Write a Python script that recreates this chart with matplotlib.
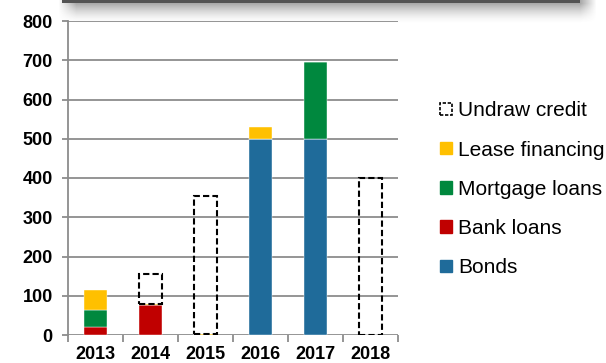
import matplotlib.pyplot as plt
import numpy as np
from matplotlib.patches import Patch

plt.rcParams["font.family"] = ["Liberation Sans", "DejaVu Sans"]

years = ["2013", "2014", "2015", "2016", "2017", "2018"]
bonds = [0, 0, 0, 500, 500, 0]
bank_loans = [21, 76, 0, 0, 0, 0]
mortgage_loans = [43, 1, 0, 0, 195, 0]
lease_financing = [50, 3, 3, 30, 0, 0]
undraw_credit = [0, 75, 352, 0, 0, 400]

COLORS = {
    "Bonds": "#1F6B9A",
    "Bank loans": "#C00000",
    "Mortgage loans": "#00883E",
    "Lease financing": "#FFC000",
}
BAR_WIDTH = 0.42
GRID = "#8c8c8c"

fig = plt.figure(figsize=(6.06, 3.63), dpi=100)
ax = fig.add_axes([68 / 606, 1 - 335 / 363, 330 / 606, 314 / 363])

x = np.arange(len(years))
bottom = np.zeros(len(years))
for name, vals in [("Bonds", bonds), ("Bank loans", bank_loans),
                   ("Mortgage loans", mortgage_loans),
                   ("Lease financing", lease_financing)]:
    vals = np.array(vals, dtype=float)
    ax.bar(x, vals, BAR_WIDTH, bottom=bottom, color=COLORS[name],
           edgecolor="white", linewidth=0.3, zorder=3)
    bottom += vals

# undrawn credit lines sit on top as dashed outlines (skip empty years)
undrawn = np.array(undraw_credit, dtype=float)
has = undrawn > 0
ax.bar(x[has], undrawn[has], BAR_WIDTH, bottom=bottom[has], facecolor="none",
       edgecolor="black", linewidth=1.5, linestyle=(0, (3, 1.5)), zorder=4)

ax.set_xlim(-0.5, len(years) - 0.5)
ax.set_ylim(0, 800)
ax.set_yticks(np.arange(0, 801, 100))
ax.grid(axis="y", color=GRID, linewidth=1.3, zorder=0)
ax.set_axisbelow(True)

for side in ["top", "right", "bottom"]:
    ax.spines[side].set_visible(False)
ax.spines["left"].set_color(GRID)
ax.spines["left"].set_linewidth(1.3)

ax.set_xticks(x)
ax.set_xticklabels(years, fontsize=13, fontweight="bold")
ax.set_xticks(np.arange(-0.5, len(years)), minor=True)
ax.tick_params(axis="x", which="major", length=0, pad=8)
ax.tick_params(axis="x", which="minor", length=5, width=1.3, color=GRID)
ax.tick_params(axis="y", length=4, width=1.3, color=GRID, pad=7)
for lbl in ax.get_yticklabels():
    lbl.set_fontsize(13)
    lbl.set_fontweight("bold")

handles = [
    Patch(facecolor="none", edgecolor="black", linewidth=1.2,
          linestyle=(0, (2, 1)), label="Undraw credit"),
    Patch(color=COLORS["Lease financing"], label="Lease financing"),
    Patch(color=COLORS["Mortgage loans"], label="Mortgage loans"),
    Patch(color=COLORS["Bank loans"], label="Bank loans"),
    Patch(color=COLORS["Bonds"], label="Bonds"),
]
fig.legend(handles=handles, loc="upper left", bbox_to_anchor=(432 / 606, 1 - 93 / 363),
           frameon=False, fontsize=15, handlelength=0.55, handleheight=0.55,
           handletextpad=0.3, labelspacing=0.97, borderaxespad=0)

# dark header strip with a soft shadow underneath
sh = fig.add_axes([0, 1 - 26 / 363, 1, 26 / 363])
sh.axis("off")
h, w = 26, 606
yy, xx = np.mgrid[0:h, 0:w]
fade_y = np.clip(1 - (yy - 3) / 20.0, 0, 1) ** 1.6
fade_x = np.clip((xx - 58) / 18.0, 0, 1) * np.clip((596 - xx) / 16.0, 0, 1)
alpha = 0.5 * fade_y * fade_x
alpha[:3, 62:580] = 1.0
rgba = np.zeros((h, w, 4))
rgba[..., :3] = 0.33
rgba[..., 3] = alpha
sh.imshow(rgba, aspect="auto", extent=(0, w, h, 0), interpolation="bilinear")
sh.set_xlim(0, w)
sh.set_ylim(h, 0)

fig.savefig("out.png", dpi=100)
